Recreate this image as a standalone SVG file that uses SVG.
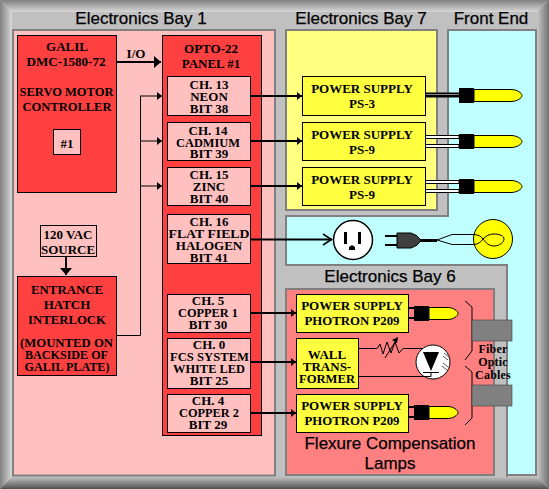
<svg xmlns="http://www.w3.org/2000/svg" width="549" height="489" viewBox="0 0 549 489">
<style>
.t{font-family:"Liberation Serif","Times New Roman",serif;font-weight:700;font-size:13px;fill:#000;text-anchor:middle}
.h{font-family:"Liberation Sans",Arial,sans-serif;font-size:17px;fill:#000;text-anchor:middle;stroke:#000;stroke-width:.25}
.f{font-family:"Liberation Serif","Times New Roman",serif;font-weight:700;font-size:12px;fill:#000;text-anchor:middle;letter-spacing:.2px}
.b{stroke:#000;stroke-width:1;}
.red{fill:#FF4040}.pk{fill:#FFC0C0}.yl{fill:#FFFF40}
.w{fill:none;stroke:#000;stroke-width:2}
.n{fill:none;stroke:#000;stroke-width:1}
</style>
<defs>
<linearGradient id="gl" x1="0" x2="1" y1="0" y2="0"><stop offset="0" stop-color="#808080"/><stop offset="1" stop-color="#D8D8D8"/></linearGradient>
<linearGradient id="gr" x1="0" x2="1" y1="0" y2="0"><stop offset="0" stop-color="#C8C8C8"/><stop offset="1" stop-color="#707070"/></linearGradient>
<linearGradient id="gt" x1="0" x2="0" y1="0" y2="1"><stop offset="0" stop-color="#808080"/><stop offset="1" stop-color="#D8D8D8"/></linearGradient>
<linearGradient id="gb" x1="0" x2="0" y1="0" y2="1"><stop offset="0" stop-color="#C0C0C0"/><stop offset="1" stop-color="#505050"/></linearGradient>
<marker id="sm" markerUnits="userSpaceOnUse" markerWidth="6" markerHeight="10" refX="5" refY="5" orient="auto"><path d="M0 1L5 5L0 9Z" fill="#000"/></marker>
<marker id="bg" markerUnits="userSpaceOnUse" markerWidth="8" markerHeight="14" refX="7" refY="7" orient="auto"><path d="M0 1L7 7L0 13Z" fill="#000"/></marker>
<g id="lamp"><path d="M0 0H15V15H0Z" fill="#000"/><path d="M15 1.500H52C58 1.500 63 5 63 7.500C63 10 58 13.500 52 13.500H15Z" fill="#FFFF00" stroke="#000" stroke-width="1"/></g>
<g id="lampS"><path d="M0 0H15V15H0Z" fill="#000"/><path d="M15 1.500H34C39 1.500 44 5 44 7.500C44 10 39 13.500 34 13.500H15Z" fill="#FFFF00" stroke="#000" stroke-width="1"/></g>
</defs>

<g id="frame">
<rect width="549" height="489" fill="#C0C0C0"/>
<path d="M0 0H549L537 12H12Z" fill="url(#gt)"/>
<path d="M0 0L12 12V477L0 489Z" fill="url(#gl)"/>
<path d="M549 0V489L537 477V12Z" fill="url(#gr)"/>
<path d="M0 489L12 477H537L549 489Z" fill="url(#gb)"/>
</g>

<g id="bay1"><rect x="13" y="30" width="262" height="445.500" fill="#FFC0C0" stroke="#808080" stroke-width="2"/><text class="h" x="141" y="24">Electronics Bay 1</text></g>
<g id="bay7"><rect x="286" y="30" width="151" height="180" fill="#FFFF80" stroke="#808080" stroke-width="2"/><text class="h" x="361" y="24">Electronics Bay 7</text></g>
<g id="frontend"><path d="M448 30H536V475H507V265H286V216H448Z" fill="#C0FFFF" stroke="#808080" stroke-width="2"/><text class="h" x="491" y="24">Front End</text></g>
<g id="bay6"><path d="M285 265H506V477H285Z" fill="#C0C0C0"/><rect x="286" y="289" width="208" height="186" fill="#FF8080" stroke="#808080" stroke-width="2"/><path d="M285 265H507V477" fill="none" stroke="#808080" stroke-width="2"/><text class="h" x="390" y="282">Electronics Bay 6</text>
<text class="h" x="390" y="449">Flexure Compensation</text><text class="h" x="390" y="469">Lamps</text></g>

<g id="galil"><rect class="red b" x="17.500" y="35.500" width="99" height="157"/>
<text class="t" x="67" y="51">GALIL</text><text class="t" x="66" y="66" textLength="79" lengthAdjust="spacingAndGlyphs">DMC-1580-72</text><text class="t" x="66.500" y="96" textLength="94" lengthAdjust="spacingAndGlyphs">SERVO MOTOR</text><text class="t" x="67" y="111" textLength="89" lengthAdjust="spacingAndGlyphs">CONTROLLER</text></g>
<g id="galil-1"><rect class="pk b" x="53.500" y="129.500" width="27" height="25"/><text class="t" x="67" y="148">#1</text></g>
<g id="vac"><rect class="pk b" x="40.500" y="225.500" width="56" height="31"/><text class="t" x="68" y="239">120 VAC</text><text class="t" x="68" y="254">SOURCE</text></g>
<g id="interlock"><rect class="red b" x="17.500" y="276.500" width="99" height="99"/>
<text class="t" x="67" y="294" textLength="72" lengthAdjust="spacingAndGlyphs">ENTRANCE</text><text class="t" x="67" y="309">HATCH</text><text class="t" x="67" y="324" textLength="78" lengthAdjust="spacingAndGlyphs">INTERLOCK</text><text class="t" x="66.500" y="347" textLength="93" lengthAdjust="spacingAndGlyphs">(MOUNTED ON</text><text class="t" x="66.500" y="359" textLength="83" lengthAdjust="spacingAndGlyphs">BACKSIDE OF</text><text class="t" x="67" y="371" textLength="85" lengthAdjust="spacingAndGlyphs">GALIL PLATE)</text></g>
<g id="opto"><rect class="red b" x="162.500" y="35.500" width="99" height="400"/><text class="t" x="211" y="53">OPTO-22</text><text class="t" x="211" y="68">PANEL #1</text></g>

<g id="connectors">
<path class="w" d="M116 62H161" marker-end="url(#bg)"/>
<path class="n" d="M116.500 335.500H140.500V96"/>
<path class="n" d="M140 96H162" marker-end="url(#sm)"/>
<path class="n" d="M140 141H162" marker-end="url(#sm)"/>
<path class="n" d="M140 186H162" marker-end="url(#sm)"/>
<path class="w" d="M66 256V275" marker-end="url(#bg)"/>
<path class="w" d="M250 96H302" marker-end="url(#sm)"/>
<path class="w" d="M250 141H302" marker-end="url(#sm)"/>
<path class="w" d="M250 186H302" marker-end="url(#sm)"/>
<path class="w" d="M250 239.500H332"/><path d="M323 234L331.500 239.500L323 245" fill="none" stroke="#000" stroke-width="1.500"/>
<path class="w" d="M250 313H296" marker-end="url(#sm)"/>
<path class="w" d="M250 362H296" marker-end="url(#sm)"/>
<path class="w" d="M250 413H296" marker-end="url(#sm)"/>
<path d="M425 92.500H459V97.500H425Z" fill="#000"/><path d="M425 94.500H459" stroke="#888" stroke-width="1"/>
<path d="M425 135.500H459V138.500H425ZM425 144.500H459V147.500H425Z" fill="#fff" stroke="#000"/>
<path d="M425 180.500H459V183.500H425ZM425 189.500H459V192.500H425Z" fill="#fff" stroke="#000"/>
<path class="w" d="M408 308H415M408 318H415M408 407H415M408 417H415"/>
<path class="n" d="M358.500 348.500H377L380 344L383 354L387 342L391 353L395 342L399 353L403 348.500H431V352"/>
<path class="n" d="M385 358L397 339"/><path d="M398 337L392 340L397 343Z" fill="#000"/>
<path class="n" d="M465 301L472 307V351L465 360M465 366L472 372V418L465 425"/>
</g>

<g id="ch13"><rect class="pk b" x="167.500" y="76.500" width="83" height="39"/><text class="t" x="209" y="89">CH. 13</text><text class="t" x="209" y="101">NEON</text><text class="t" x="209" y="113">BIT 38</text></g>
<g id="ch14"><rect class="pk b" x="167.500" y="122.500" width="83" height="38"/><text class="t" x="208" y="135">CH. 14</text><text class="t" x="208" y="147" textLength="64" lengthAdjust="spacingAndGlyphs">CADMIUM</text><text class="t" x="209" y="158">BIT 39</text></g>
<g id="ch15"><rect class="pk b" x="167.500" y="167.500" width="83" height="38"/><text class="t" x="209" y="179">CH. 15</text><text class="t" x="209" y="191">ZINC</text><text class="t" x="209" y="203">BIT 40</text></g>
<g id="ch16"><rect class="pk b" x="167.500" y="214.500" width="83" height="49"/><text class="t" x="209" y="226">CH. 16</text><text class="t" x="209" y="238" textLength="81" lengthAdjust="spacingAndGlyphs">FLAT FIELD</text><text class="t" x="209" y="250">HALOGEN</text><text class="t" x="209" y="262">BIT 41</text></g>
<g id="ch5"><rect class="pk b" x="167.500" y="294.500" width="83" height="38"/><text class="t" x="208" y="305">CH. 5</text><text class="t" x="208" y="317" textLength="60" lengthAdjust="spacingAndGlyphs">COPPER 1</text><text class="t" x="208" y="329">BIT 30</text></g>
<g id="ch0"><rect class="pk b" x="167.500" y="338.500" width="83" height="50"/><text class="t" x="209" y="349">CH. 0</text><text class="t" x="209.500" y="361" textLength="79" lengthAdjust="spacingAndGlyphs">FCS SYSTEM</text><text class="t" x="209" y="373" textLength="72" lengthAdjust="spacingAndGlyphs">WHITE LED</text><text class="t" x="209" y="385">BIT 25</text></g>
<g id="ch4"><rect class="pk b" x="167.500" y="394.500" width="83" height="38"/><text class="t" x="208" y="405">CH. 4</text><text class="t" x="209" y="417" textLength="60" lengthAdjust="spacingAndGlyphs">COPPER 2</text><text class="t" x="208" y="429">BIT 29</text></g>
<text class="t" x="136" y="58">I/O</text>

<g id="ps3"><rect class="yl b" x="302.500" y="76.500" width="123" height="39"/><text class="t" x="362" y="93">POWER SUPPLY</text><text class="t" x="362" y="108">PS-3</text></g>
<g id="ps9a"><rect class="yl b" x="302.500" y="122.500" width="123" height="38"/><text class="t" x="362" y="139">POWER SUPPLY</text><text class="t" x="362" y="154">PS-9</text></g>
<g id="ps9b"><rect class="yl b" x="302.500" y="167.500" width="123" height="38"/><text class="t" x="362" y="184">POWER SUPPLY</text><text class="t" x="362" y="199">PS-9</text></g>
<g id="lamp1"><use href="#lamp" x="459" y="88"/></g>
<g id="lamp2"><use href="#lamp" x="459" y="134"/></g>
<g id="lamp3"><use href="#lamp" x="459" y="179"/></g>

<g id="outlet"><circle cx="353" cy="240" r="19.500" fill="#fff" stroke="#000" stroke-width="1.500"/><rect x="344" y="232" width="3" height="12" fill="#000"/><rect x="358" y="232" width="3" height="12" fill="#000"/><path d="M349 250V247L352 245L355 247V250Z" fill="#000"/></g>
<g id="plug"><path d="M385 236H397M385 245H397" class="w"/><path d="M397 233H411Q418 235 421 240.500Q418 246 411 248H397Z" fill="#404040" stroke="#000"/><path d="M420 240.500H437" stroke="#000" stroke-width="3"/></g>
<g id="bulb"><circle cx="493" cy="239" r="19.500" fill="#FFFF00" stroke="#000"/><path class="n" d="M437 240L452 234.500H473C478 234.500 481 236 483 239C486 243 489 246 494 246C500 246 504 242 504 239C504 236 500 234 494 234C489 234 486 236 483 239C481 242 478 244.500 473 244.500H452L437 240"/></g>

<g id="p209a"><rect class="yl b" x="296.500" y="294.500" width="112" height="38"/><text class="t" x="352" y="310">POWER SUPPLY</text><text class="t" x="352" y="325" textLength="95" lengthAdjust="spacingAndGlyphs">PHOTRON P209</text></g>
<g id="wall"><rect class="yl b" x="296.500" y="338.500" width="62" height="50"/><text class="t" x="327" y="359">WALL</text><text class="t" x="327" y="371">TRANS-</text><text class="t" x="327" y="383" textLength="56" lengthAdjust="spacingAndGlyphs">FORMER</text></g>
<g id="p209b"><rect class="yl b" x="296.500" y="394.500" width="112" height="38"/><text class="t" x="352" y="410">POWER SUPPLY</text><text class="t" x="352" y="425" textLength="95" lengthAdjust="spacingAndGlyphs">PHOTRON P209</text></g>
<g id="lamp4"><use href="#lampS" x="414" y="306"/></g>
<g id="lamp5"><use href="#lampS" x="414" y="405"/></g>
<g id="led"><circle cx="433" cy="362" r="17" fill="#fff" stroke="#000"/><path d="M423 352H439L431 371Z" fill="#000"/><path class="n" d="M423 372.500H439"/><path d="M358.500 376.500H431V372" class="n"/><path d="M443 356L448 360M444 353L449 357M442 366L447 370M443 363L448 367" stroke="#555" stroke-width="1" fill="none"/></g>
<g id="fiber1"><rect x="472" y="320" width="40" height="21" fill="#808080" stroke="#404040" stroke-width=".6"/></g>
<g id="fiber2"><rect x="472" y="385" width="40" height="21" fill="#808080" stroke="#404040" stroke-width=".6"/></g>
<text class="f" x="493" y="353">Fiber</text><text class="f" x="493" y="366">Optic</text><text class="f" x="493" y="379">Cables</text>
</svg>
